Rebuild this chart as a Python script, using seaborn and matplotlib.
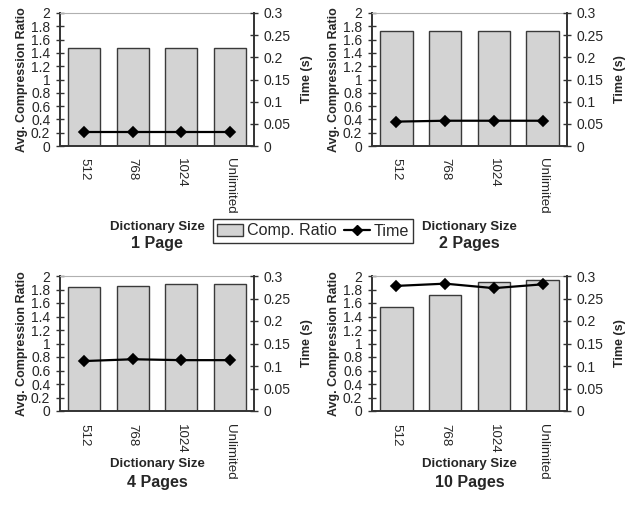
import numpy as np
import pandas as pd
import seaborn as sns
import matplotlib
matplotlib.use("Agg")
import matplotlib.pyplot as plt
from matplotlib.patches import Patch
from matplotlib.lines import Line2D

sns.set_style("white")
plt.rcParams["font.family"] = ["Liberation Sans", "DejaVu Sans"]

# data
sizes = ["512", "768", "1024", "Unlimited"]
pages = ["1 Page", "2 Pages", "4 Pages", "10 Pages"]
ratio_1 = [1.47, 1.47, 1.47, 1.47]
ratio_2 = [1.73, 1.73, 1.73, 1.73]
ratio_4 = [1.83, 1.855, 1.885, 1.885]
ratio_10 = [1.54, 1.72, 1.915, 1.935]
time_1 = [0.031, 0.031, 0.031, 0.031]
time_2 = [0.055, 0.057, 0.057, 0.057]
time_4 = [0.111, 0.115, 0.113, 0.113]
time_10 = [0.278, 0.283, 0.273, 0.2815]
ratios = [ratio_1, ratio_2, ratio_4, ratio_10]
times = [time_1, time_2, time_4, time_10]

W, H = 629, 521
fig = plt.figure(figsize=(W / 100, H / 100), dpi=100)

# panel boxes in pixels: left, right, top, bottom
boxes = [(60, 254, 13, 146), (372, 567, 13, 146),
         (60, 254, 276, 411), (372, 567, 276, 411)]
title_y = [(227, 243), (227, 243), (464, 482), (464, 482)]

bar_col = "#d3d3d3"
edge_col = "#3a3a3a"
ytick_fs = 10
xtick_fs = 9.6

for i in range(4):
    l, r, t, b = boxes[i]
    ax = fig.add_axes([l / W, 1 - b / H, (r - l) / W, (b - t) / H])
    df = pd.DataFrame({"size": sizes, "ratio": ratios[i], "time": times[i]})
    sns.barplot(data=df, x="size", y="ratio", ax=ax, color=bar_col,
                edgecolor=edge_col, linewidth=1, width=0.67, saturation=1)
    ax.set_ylim(0, 2)
    ax.set_xlim(-0.5, 3.5)
    yt = np.round(np.arange(0, 2.01, 0.2), 1)
    ax.set_yticks(yt)
    ax.set_yticklabels(["%g" % v for v in yt])
    ax.set_xticks(range(4))
    ax.set_xticklabels(sizes, rotation=-90, va="top", ha="center")
    ax.set_xticks([0.5, 1.5, 2.5], minor=True)
    ax.tick_params(axis="x", which="major", length=0, pad=9, labelsize=xtick_fs)
    ax.tick_params(axis="x", which="minor", length=5, width=1, direction="out",
                   color="black")
    ax.tick_params(axis="y", length=6, width=1, direction="inout", pad=4,
                   labelsize=ytick_fs, color="#333333")
    ax.set_xlabel("")
    ax.set_ylabel("Avg. Compression Ratio", fontsize=9, fontweight="bold",
                  labelpad=2)
    for s in ["left", "bottom"]:
        ax.spines[s].set_color("#333333")
        ax.spines[s].set_linewidth(1.4)
    ax.spines["top"].set_color("#b0b0b0")
    ax.spines["right"].set_visible(False)

    ax2 = ax.twinx()
    sns.pointplot(data=df, x="size", y="time", ax=ax2, color="black",
                  markers="D", markersize=5, linewidth=1.6)
    ax2.set_xlim(-0.5, 3.5)
    ax2.set_ylim(0, 0.3)
    t2 = np.round(np.arange(0, 0.301, 0.05), 2)
    ax2.set_yticks(t2)
    ax2.set_yticklabels(["%g" % v for v in t2])
    ax2.tick_params(axis="y", length=6, width=1, direction="inout", pad=4,
                    labelsize=ytick_fs, color="#333333")
    ax2.set_ylabel("Time (s)", fontsize=9, fontweight="bold", labelpad=7)
    ax2.set_xlabel("")
    ax2.spines["right"].set_color("#333333")
    ax2.spines["right"].set_linewidth(1.4)
    for s in ["left", "top", "bottom"]:
        ax2.spines[s].set_visible(False)

    cx = (l + r) / 2 / W
    fig.text(cx, 1 - title_y[i][0] / H, "Dictionary Size", ha="center",
             va="center", fontsize=9.5, fontweight="bold")
    fig.text(cx, 1 - title_y[i][1] / H, pages[i], ha="center", va="center",
             fontsize=11.5, fontweight="bold")

handles = [Patch(facecolor=bar_col, edgecolor=edge_col, linewidth=1),
           Line2D([], [], color="black", marker="D", markersize=5, linewidth=1.6)]
fig.legend(handles, ["Comp. Ratio", "Time"], loc="center",
           bbox_to_anchor=(313 / W, 1 - 231 / H), ncol=2, frameon=True,
           fancybox=False, edgecolor="black", fontsize=11.6, borderpad=0.25,
           handlelength=1.6, handletextpad=0.25, columnspacing=0.45,
           borderaxespad=0)

fig.savefig("out.png", dpi=100)
